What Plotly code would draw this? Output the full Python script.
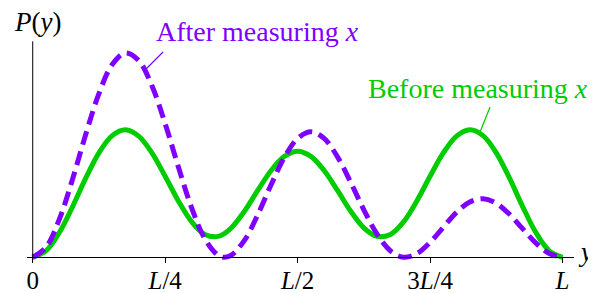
import plotly.graph_objects as go

# positions along the box, in units of L
positions = [0, 0.025, 0.05, 0.075, 0.1, 0.125, 0.15, 0.175, 0.2, 0.225, 0.25,
             0.275, 0.3, 0.325, 0.35, 0.3625, 0.375, 0.4, 0.425, 0.45, 0.475, 0.5,
             0.525, 0.55, 0.575, 0.6, 0.625, 0.65, 0.675, 0.7, 0.725, 0.75,
             0.775, 0.8, 0.825, 0.85, 0.875, 0.9, 0.925, 0.95, 0.975, 1.0]

# P(y) before measuring x (green, solid)
before = [0, 6.5, 24.5, 50.5, 79.1, 104.5, 121.7, 127.6, 121.2, 104.4, 81.0,
          56.3, 35.5, 22.9, 20.9, 24.0, 29.5, 46.3, 67.1, 86.8, 100.9, 106.0,
          100.9, 86.8, 67.1, 46.3, 29.5, 20.9, 22.9, 35.5, 56.3, 81.0,
          104.4, 121.2, 127.6, 121.7, 104.5, 79.1, 50.5, 24.5, 6.5, 0]

# P(y) after measuring x (violet, dashed)
after = [0, 9.9, 37.7, 77.9, 122.8, 163.7, 192.7, 204.4, 196.8, 171.5, 133.6,
         90.2, 49.4, 18.4, 2.0, 0.0, 2.1, 17.2, 42.8, 72.6, 99.9, 118.8,
         125.5, 118.9, 100.7, 75.2, 47.5, 23.2, 6.6, 0.1, 3.6, 14.9,
         30.1, 45.0, 55.3, 58.5, 54.0, 43.0, 28.4, 14.1, 3.8, 0]

tick_vals = [0, 0.25, 0.5, 0.75, 1.0]
tick_text = ["0", "<i>L</i>/4", "<i>L</i>/2", "3<i>L</i>/4", "<i>L</i>"]

GREEN = "#00CC00"
VIOLET = "#7F00FF"
FONT = "Liberation Serif"

fig = go.Figure()
fig.add_trace(go.Scatter(x=positions, y=before, mode="lines",
                         line=dict(color=GREEN, width=5, shape="spline"),
                         showlegend=False, hoverinfo="skip"))
fig.add_trace(go.Scatter(x=positions, y=after, mode="lines",
                         line=dict(color=VIOLET, width=5, shape="spline", dash="14px,7px"),
                         showlegend=False, hoverinfo="skip"))

fig.update_layout(
    width=596, height=293,
    margin=dict(l=19, r=30, t=22, b=31, autoexpand=False),
    paper_bgcolor="white", plot_bgcolor="white",
    xaxis=dict(range=[-0.0108, 1.0217], anchor="free", position=12.7 / 240,
               automargin=False,
               showline=True, linecolor="black", linewidth=1,
               ticks="outside", ticklen=5, tickcolor="black", tickwidth=1,
               ticklabelstandoff=-4,
               tickvals=tick_vals, ticktext=tick_text,
               tickfont=dict(family=FONT, size=25, color="black"),
               showgrid=False, zeroline=False),
    yaxis=dict(range=[-12.7, 227.3], visible=False, showgrid=False, zeroline=False,
               automargin=False),
    shapes=[
        dict(type="line", xref="x", yref="y", x0=0, x1=0, y0=0, y1=216,
             line=dict(color="black", width=1)),
        dict(type="line", xref="x", yref="y", x0=0.2101, y0=186.3, x1=0.2460, y1=205.3,
             line=dict(color=VIOLET, width=1.2)),
        dict(type="line", xref="x", yref="y", x0=0.8632, y0=150.3, x1=0.8444, y1=125.3,
             line=dict(color=GREEN, width=1.2)),
    ],
    annotations=[
        dict(x=0.0192, y=1.033, xref="paper", yref="paper", text="<i>P</i>(<i>y</i>)",
             xanchor="center", yanchor="middle",
             showarrow=False, font=dict(family=FONT, size=27, color="black")),
        dict(x=1.0205, y=0.075, xref="paper", yref="paper", text="<i>y</i>",
             xanchor="center", yanchor="middle",
             showarrow=False, font=dict(family=FONT, size=27, color="black")),
        dict(x=0.4205, y=0.9917, xref="paper", yref="paper", text="After measuring <i>x</i>",
             xanchor="center", yanchor="middle",
             showarrow=False, font=dict(family=FONT, size=28, color=VIOLET)),
        dict(x=0.8254, y=0.7563, xref="paper", yref="paper", text="Before measuring <i>x</i>",
             xanchor="center", yanchor="middle",
             showarrow=False, font=dict(family=FONT, size=28, color=GREEN)),
    ],
)

fig.write_html("out.html")
